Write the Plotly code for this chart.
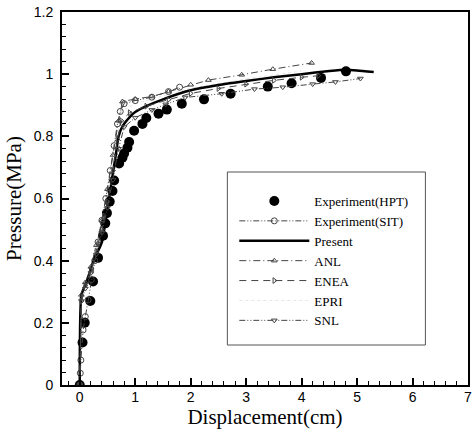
import plotly.graph_objects as go

# Experiment (HPT) - filled circles
hpt_x = [0, 0.05, 0.09, 0.19, 0.24, 0.33, 0.42, 0.46, 0.49, 0.54, 0.59, 0.62, 0.71, 0.77, 0.80,
         0.86, 0.89, 0.98, 1.13, 1.20, 1.42, 1.57, 1.84, 2.24, 2.72, 3.39, 3.82, 4.35, 4.80]
hpt_y = [0, 0.137, 0.200, 0.270, 0.333, 0.409, 0.480, 0.520, 0.553, 0.590, 0.624, 0.658, 0.713, 0.731, 0.745,
         0.763, 0.782, 0.818, 0.840, 0.859, 0.873, 0.886, 0.905, 0.919, 0.937, 0.960, 0.971, 0.988, 1.009]

# Experiment (SIT)
sit_x = [0, 0.01, 0.02, 0.06, 0.10, 0.15, 0.21, 0.27, 0.33, 0.40, 0.47, 0.55, 0.62, 0.68, 0.73, 0.80, 1.00, 1.30, 1.60, 1.80]
sit_y = [0, 0.038, 0.080, 0.177, 0.220, 0.274, 0.339, 0.400, 0.460, 0.530, 0.600, 0.690, 0.770, 0.840, 0.880, 0.905, 0.915, 0.926, 0.944, 0.958]

# Present
pre_x = [0, 0.03, 0.12, 0.25, 0.40, 0.50, 0.58, 0.65, 0.70, 0.78, 0.90, 1.00, 1.20, 1.50, 2.00, 2.50, 3.00, 3.50, 4.00, 4.50, 4.80, 5.00, 5.30]
pre_y = [0, 0.290, 0.330, 0.400, 0.460, 0.570, 0.660, 0.740, 0.800, 0.835, 0.862, 0.878, 0.897, 0.919, 0.948, 0.965, 0.978, 0.990, 1.000, 1.010, 1.014, 1.012, 1.007]

# ANL
anl_x = [0, 0.03, 0.10, 0.20, 0.30, 0.40, 0.50, 0.60, 0.70, 0.77, 1.00, 1.30, 1.60, 2.00, 2.32, 2.92, 3.48, 4.18]
anl_y = [0, 0.290, 0.330, 0.380, 0.450, 0.530, 0.630, 0.740, 0.850, 0.912, 0.920, 0.928, 0.944, 0.966, 0.981, 0.998, 1.016, 1.036]

# ENEA
enea_x = [0, 0.03, 0.10, 0.20, 0.30, 0.40, 0.50, 0.60, 0.68, 0.75, 0.90, 1.20, 1.60, 2.00, 2.50, 3.00, 3.50, 4.00, 4.30]
enea_y = [0, 0.270, 0.320, 0.370, 0.430, 0.500, 0.590, 0.690, 0.790, 0.850, 0.876, 0.897, 0.918, 0.938, 0.954, 0.968, 0.980, 0.990, 0.995]

# EPRI
epri_x = [0, 0.03, 0.10, 0.30, 0.50, 0.65, 0.75, 1.00, 1.50, 2.00, 3.00, 4.00]
epri_y = [0, 0.280, 0.330, 0.440, 0.600, 0.760, 0.880, 0.905, 0.930, 0.955, 0.985, 1.010]

# SNL
snl_x = [0, 0.03, 0.10, 0.20, 0.30, 0.40, 0.50, 0.60, 0.70, 0.80, 1.00, 1.30, 1.55, 1.90, 2.56, 3.15, 3.66, 4.20, 4.61, 5.06]
snl_y = [0, 0.270, 0.310, 0.360, 0.420, 0.490, 0.570, 0.660, 0.760, 0.830, 0.860, 0.885, 0.903, 0.925, 0.937, 0.952, 0.958, 0.968, 0.975, 0.986]

x_ticks = [0, 1, 2, 3, 4, 5, 6, 7]
y_ticks = [0, 0.2, 0.4, 0.6, 0.8, 1, 1.2]

fig = go.Figure()
fig.add_trace(go.Scatter(x=hpt_x, y=hpt_y, mode="markers", name="Experiment(HPT)",
                         marker=dict(symbol="circle", size=10, color="black")))
fig.add_trace(go.Scatter(x=sit_x, y=sit_y, mode="lines+markers", name="Experiment(SIT)",
                         line=dict(color="#444", width=1, dash="6px,2px,1px,2px,1px,2px"),
                         marker=dict(symbol="circle-open", size=6, color="#444", line=dict(width=1))))
fig.add_trace(go.Scatter(x=pre_x, y=pre_y, mode="lines", name="Present",
                         line=dict(color="black", width=2.5, shape="spline", smoothing=0.5)))
fig.add_trace(go.Scatter(x=anl_x, y=anl_y, mode="lines+markers", name="ANL",
                         line=dict(color="#444", width=1, dash="7px,3px,1px,3px"),
                         marker=dict(symbol="triangle-up-open", size=5, color="#444", line=dict(width=1))))
fig.add_trace(go.Scatter(x=enea_x, y=enea_y, mode="lines+markers", name="ENEA",
                         line=dict(color="#444", width=1, dash="7px,5px"),
                         marker=dict(symbol="triangle-right-open", size=5, color="#444", line=dict(width=1))))
fig.add_trace(go.Scatter(x=epri_x, y=epri_y, mode="lines", name="EPRI",
                         line=dict(color="rgba(0,0,0,0.1)", width=1, dash="dot")))
fig.add_trace(go.Scatter(x=snl_x, y=snl_y, mode="lines+markers", name="SNL",
                         line=dict(color="#444", width=1, dash="6px,2px,1px,2px,1px,2px"),
                         marker=dict(symbol="triangle-down-open", size=5, color="#444", line=dict(width=1))))

W, H = 475, 436
ml, mr, mt, mb = 62, 3, 12, 51
pw, ph = W - ml - mr, H - mt - mb

def px_x(p):
    return (p - ml) / pw

def px_y(p):
    return (H - mb - p) / ph

fig.add_shape(type="rect", xref="paper", yref="paper",
              x0=px_x(229), x1=px_x(429), y0=px_y(345), y1=px_y(172),
              line=dict(color="#555", width=1))

axis_common = dict(showgrid=False, zeroline=False, showline=True, linecolor="black", linewidth=2,
                   mirror=True, ticks="inside", tickcolor="black", tickwidth=1.5, ticklen=7,
                   tickfont=dict(family="Liberation Sans, Arial", size=14, color="black"))

fig.update_layout(
    width=W, height=H,
    margin=dict(l=ml, r=mr, t=mt, b=mb),
    paper_bgcolor="white", plot_bgcolor="white",
    showlegend=True,
    legend=dict(x=px_x(236), y=px_y(186), xanchor="left", yanchor="top",
                bgcolor="rgba(0,0,0,0)", borderwidth=0, itemwidth=70,
                font=dict(family="Liberation Serif, Times New Roman", size=13, color="black"),
                tracegroupgap=0),
    xaxis=dict(range=[-0.32, 7], tickvals=x_ticks,
               minor=dict(dtick=0.2, tick0=0, ticks="inside", ticklen=4, tickcolor="black", tickwidth=1),
               title=dict(text="Displacement(cm)", standoff=3,
                          font=dict(family="Liberation Serif, Times New Roman", size=21, color="black")),
               ticklabelstandoff=-2,
               **axis_common),
    yaxis=dict(range=[0, 1.2], tickvals=y_ticks,
               minor=dict(dtick=0.04, tick0=0, ticks="inside", ticklen=4, tickcolor="black", tickwidth=1),
               title=dict(text="Pressure(MPa)", standoff=6,
                          font=dict(family="Liberation Serif, Times New Roman", size=21, color="black")),
               ticklabelstandoff=4,
               **axis_common),
)

fig.write_html("out.html")
